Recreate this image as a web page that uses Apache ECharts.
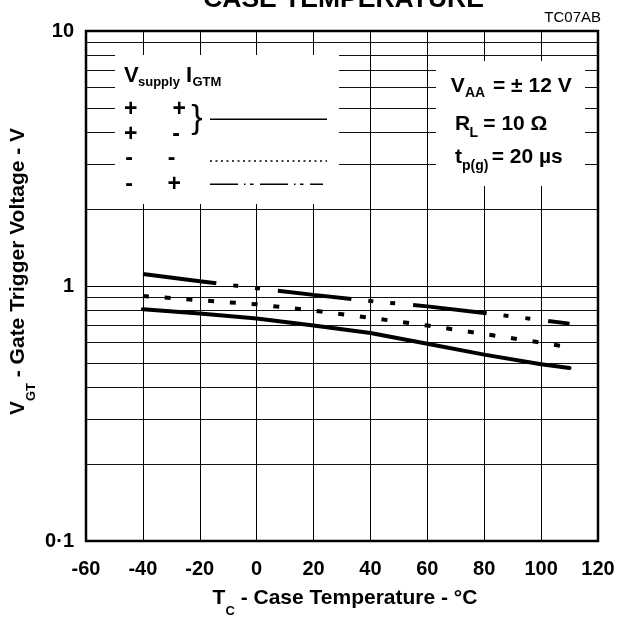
<!DOCTYPE html>
<html><head><meta charset="utf-8">
<script src="https://cdn.jsdelivr.net/npm/echarts@6/dist/echarts.min.js"></script>
<style>html,body{margin:0;padding:0;background:#fff}#c{width:622px;height:617px}</style>
</head><body><div id="c"></div>
<script>
// ---- data ----
const temps = [-40, -20, 0, 20, 40, 60, 80, 100, 110];
const vgtSolid = [0.81, 0.78, 0.745, 0.70, 0.654, 0.594, 0.538, 0.493, 0.477];   // Vsupply +, IGTM + / Vsupply +, IGTM -
const vgtDotted = [0.914, 0.879, 0.848, 0.80, 0.75, 0.70, 0.648, 0.60, 0.575];   // Vsupply -, IGTM -
const vgtDashDot = [1.114, 1.043, 0.98, 0.923, 0.873, 0.832, 0.784, 0.735, 0.712]; // Vsupply -, IGTM +
const xTicks = [-60, -40, -20, 0, 20, 40, 60, 80, 100, 120];
const yMajorLabels = {"0.1": "0·1", "1": "1", "10": "10"};
const yMinor = [0.2, 0.3, 0.4, 0.5, 0.6, 0.7, 0.8, 0.9, 2, 3, 4, 5, 6, 7, 8, 9];

const FONT = '"Liberation Sans", Arial, Helvetica, sans-serif';
const chart = echarts.init(document.getElementById('c'), null, {renderer: 'canvas'});

function pairs(ys) { return temps.map((t, i) => [t, ys[i]]); }
function txt(x, y, text, size, extra) {
  return Object.assign({
    type: 'text', x: x, y: y, z: 60,
    style: Object.assign({text: text, fontFamily: FONT, fontSize: size, fontWeight: 'bold', fill: '#000',
      align: 'left', verticalAlign: 'middle'}, (extra && extra.style) || {})
  }, extra && extra.el ? extra.el : {});
}

const titleRich = {
  b: {fontFamily: FONT, fontSize: 21, fontWeight: 'bold', color: '#000', lineHeight: 30, verticalAlign: 'top'},
  s: {fontFamily: FONT, fontSize: 13, fontWeight: 'bold', color: '#000', lineHeight: 14, verticalAlign: 'bottom'}
};

const option = {
  animation: false,
  backgroundColor: '#fff',
  grid: {left: 86, right: 24, top: 31, bottom: 76, show: true, borderColor: '#000', borderWidth: 2.5,
         backgroundColor: 'transparent', outerBoundsMode: 'none', containLabel: false},
  xAxis: {
    type: 'value', min: xTicks[0], max: xTicks[xTicks.length - 1], interval: 20,
    axisLine: {show: false}, axisTick: {show: false},
    splitLine: {show: true, lineStyle: {color: '#000', width: 1}},
    axisLabel: {fontFamily: FONT, fontWeight: 'bold', fontSize: 20, color: '#000', margin: 18,
                formatter: v => String(v)}
  },
  yAxis: {
    type: 'log', logBase: 10, min: 0.1, max: 10,
    axisLine: {show: false}, axisTick: {show: false},
    splitLine: {show: true, lineStyle: {color: '#000', width: 1}},
    axisLabel: {fontFamily: FONT, fontWeight: 'bold', fontSize: 20, color: '#000', margin: 12,
                formatter: v => yMajorLabels[String(+v.toPrecision(3))] || ''}
  },
  series: [
    {
      name: 'grid', type: 'line', data: [], z: 1, silent: true,
      markLine: {silent: true, symbol: ['none', 'none'], label: {show: false}, animation: false,
                 lineStyle: {color: '#111', width: 1, type: 'solid'},
                 emphasis: {disabled: true},
                 data: yMinor.map(v => ({yAxis: v}))}
    },
    {
      name: '+ +/+ -', type: 'line', data: pairs(vgtSolid), symbol: 'none', z: 10,
      lineStyle: {color: '#000', width: 4, type: 'solid', cap: 'round'}
    },
    {
      name: '- -', type: 'line', data: pairs(vgtDotted), symbol: 'none', z: 10,
      lineStyle: {color: '#000', width: 4, type: [6, 15.8], cap: 'butt'}
    },
    {
      name: '- +', type: 'line', data: pairs(vgtDashDot), symbol: 'none', z: 10,
      lineStyle: {color: '#000', width: 4, type: [74, 17, 5, 17, 5, 18], cap: 'butt'}
    }
  ],
  graphic: [
    // white annotation boxes covering the grid
    {type: 'rect', shape: {x: 115, y: 55, width: 224, height: 149}, style: {fill: '#fff'}, z: 50, silent: true},
    {type: 'rect', shape: {x: 436, y: 61, width: 149, height: 125}, style: {fill: '#fff'}, z: 50, silent: true},
    // title (cut off at top) and figure code
    txt(343.5, -0.5, 'CASE TEMPERATURE', 26.5, {style: {align: 'center'}}),
    txt(601, 18, 'TC07AB', 15, {style: {align: 'right', fontWeight: 'normal'}}),
    // legend header
    txt(124, 76, 'V', 22),
    txt(138, 82.7, 'supply', 13),
    txt(186, 76, 'I', 22),
    txt(192.5, 82.7, 'GTM', 13),
    // legend signs
    txt(130.7, 110, '+', 23, {style: {align: 'center'}}),
    txt(179.3, 110, '+', 23, {style: {align: 'center'}}),
    txt(130.7, 134.3, '+', 23, {style: {align: 'center'}}),
    txt(176, 134.3, '-', 23, {style: {align: 'center'}}),
    txt(129, 158.3, '-', 23, {style: {align: 'center'}}),
    txt(171.7, 158.3, '-', 23, {style: {align: 'center'}}),
    txt(129, 184.3, '-', 23, {style: {align: 'center'}}),
    txt(174.3, 184.3, '+', 23, {style: {align: 'center'}}),
    txt(197, 119, '}', 34, {style: {align: 'center', fontWeight: 'normal'}}),
    // legend line samples
    {type: 'line', z: 60, shape: {x1: 210, y1: 119.3, x2: 327, y2: 119.3}, style: {stroke: '#000', lineWidth: 1.5}},
    {type: 'line', z: 60, shape: {x1: 210, y1: 161, x2: 327, y2: 161}, style: {stroke: '#000', lineWidth: 1.5, lineDash: [2, 3.5]}},
    {type: 'line', z: 60, shape: {x1: 210, y1: 184.3, x2: 323, y2: 184.3}, style: {stroke: '#000', lineWidth: 1.5, lineDash: [28, 6, 1.5, 4.5, 3.5, 6.5]}},
    // conditions box
    txt(450.7, 85.8, 'V', 21),
    txt(465, 93, 'AA', 14),
    txt(493, 85.8, '= ± 12 V', 21),
    txt(455, 124.5, 'R', 21),
    txt(469.5, 133, 'L', 14),
    txt(483.3, 124.5, '= 10 Ω', 21),
    txt(455, 156.8, 't', 21),
    txt(462, 165.7, 'p(g)', 14),
    txt(491.7, 156.8, '= 20 µs', 21),
    // axis titles
    {type: 'text', x: 345, y: 603, z: 60,
     style: {text: '{b|T}{s|C}{b| - Case Temperature - °C}', rich: titleRich, align: 'center', verticalAlign: 'middle'}},
    {type: 'text', x: 23, y: 271.5, z: 60, rotation: Math.PI / 2,
     style: {text: '{b|V}{s|GT}{b| - Gate Trigger Voltage - V}', rich: titleRich, align: 'center', verticalAlign: 'middle'}}
  ]
};
chart.setOption(option);
</script>
</body></html>
